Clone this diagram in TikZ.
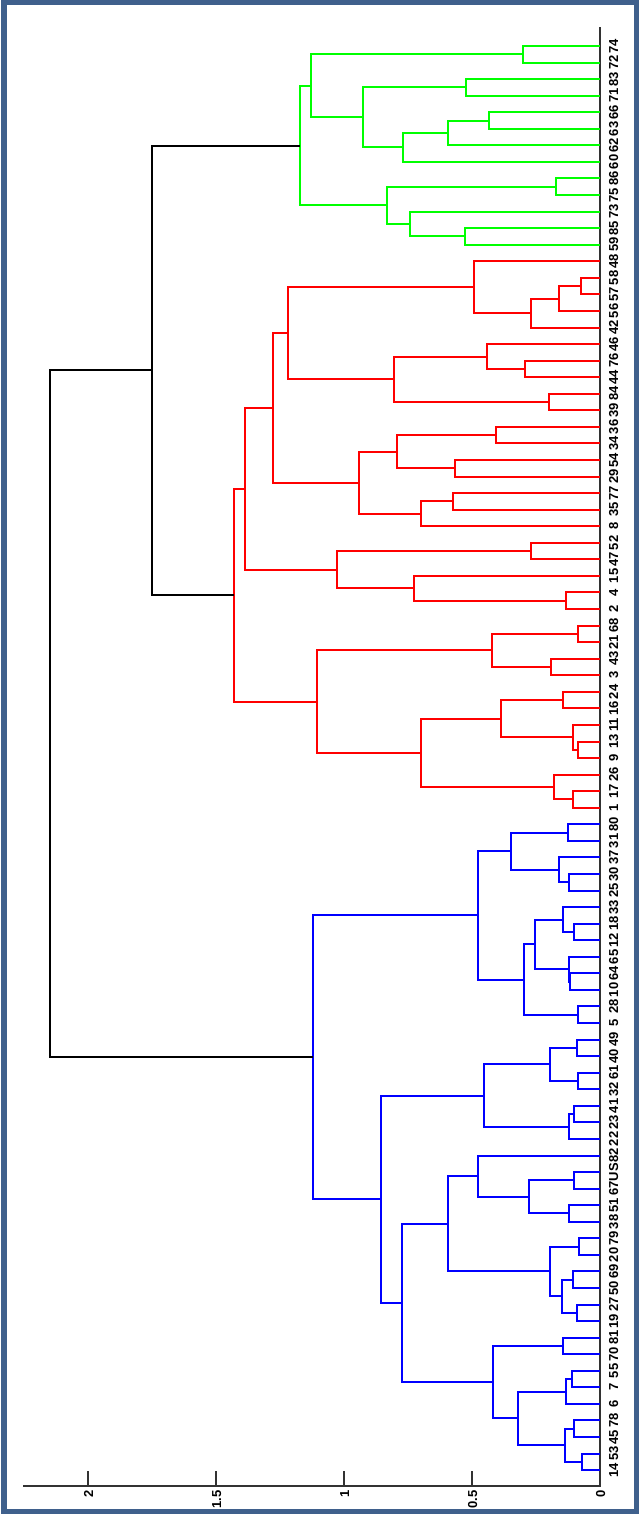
\documentclass[tikz,border=0pt]{standalone}
\usepackage{xcolor}
\usepackage{fontspec}
\setmainfont{Liberation Sans}
\usepackage{tikz}
\usetikzlibrary{calc}

\definecolor{framecol}{RGB}{63,96,140}
\definecolor{axiscol}{RGB}{50,50,50}

\newcommand{\dlink}[4]{%
  \path let \p1=(#2), \p2=(#3) in coordinate (#1) at ({(600-256*#4)*1pt},{0.5*\y1+0.5*\y2});
  \draw (#2) -- (#2 -| #1) -- (#3 -| #1) -- (#3);}

\begin{document}
\begin{tikzpicture}[x=1pt, y=-1pt, line join=miter,
    leaflab/.style={rotate=90, anchor=base, inner sep=0pt, font=\fontsize{13}{15}\selectfont\bfseries},
    ticklab/.style={rotate=90, anchor=base east, inner sep=0pt, font=\fontsize{13}{15}\selectfont\bfseries},
    branch/.style={line width=2pt}]
    \useasboundingbox (0,0) rectangle (640,1518);
    \fill[white] (0,0) rectangle (640,1518);
    \draw[framecol, line width=5.5pt] (4.2,2.2) rectangle (636.5,1511.5);

    % axes
    \coordinate (org) at (600,1486);
    \coordinate (xend) at (23,1486);
    \coordinate (yend) at (600,27);
    \draw[axiscol, line width=1.3pt] (xend) -- (org) -- (yend);
    \foreach \v [count=\i] in {0,0.5,1,1.5,2} {
        \coordinate (t\i) at ({600-256*\v},1486);
        \draw[axiscol, line width=1.3pt] (t\i) -- ++(0,-15);
        \node[ticklab] (ax\i) at ([xshift=5pt, yshift=-4pt]t\i) {\v};
    }

    % leaves
    \foreach \lab [count=\i from 0] in {74,72,83,71,66,63,62,60,86,75,73,85,59,48,58,57,56,42,46,76,44,84,39,36,34,54,29,77,35,8,52,47,15,4,2,68,21,43,3,24,16,11,13,9,26,17,1,80,31,37,30,25,33,18,12,65,64,10,28,5,49,40,61,32,41,23,22,82,US,67,51,38,79,20,69,50,27,19,81,70,55,7,6,78,45,53,14} {
        \coordinate (l\lab) at (600, 46+16.56*\i);
        \draw[axiscol, line width=0.8pt] (l\lab) -- ++(-17,0);
        \node[leaflab] (n\lab) at (618, 46+16.56*\i) {\lab};
    }

    \begin{scope}[branch, green]
        \foreach \m/\a/\b/\h in {g1/l74/l72/0.302, g2/l83/l71/0.523, g3/l66/l63/0.434,
            g4/g3/l62/0.592, g5/g4/l60/0.771, g6/g2/g5/0.927, g7/g1/g6/1.130,
            g8/l86/l75/0.172, g9/l85/l59/0.527, g10/l73/g9/0.742, g11/g8/g10/0.833,
            g12/g7/g11/1.172}
            {\dlink{\m}{\a}{\b}{\h}}
    \end{scope}

    \begin{scope}[branch, red]
        \foreach \m/\a/\b/\h in {r1/l58/l57/0.076, r2/r1/l56/0.159, r3/r2/l42/0.271,
            r4/l48/r3/0.492, r5/l76/l44/0.293, r6/l46/r5/0.440, r7/l84/l39/0.198,
            r8/r6/r7/0.803, r9/r4/r8/1.217, r10/l36/l34/0.408, r11/l54/l29/0.566,
            r12/r10/r11/0.794, r13/l77/l35/0.573, r14/r13/l8/0.700, r15/r12/r14/0.941,
            r16/r9/r15/1.279, r17/l52/l47/0.270, r18/l4/l2/0.133, r19/l15/r18/0.727,
            r20/r17/r19/1.029, r21/r16/r20/1.387, r22/l68/l21/0.085, r23/l43/l3/0.193,
            r24/r22/r23/0.423, r25/l24/l16/0.143, r26/l13/l9/0.085, r27/l11/r26/0.107,
            r28/r25/r27/0.387, r29/l17/l1/0.107, r30/l26/r29/0.178, r31/r28/r30/0.700,
            r32/r24/r31/1.107, r33/r21/r32/1.428}
            {\dlink{\m}{\a}{\b}{\h}}
    \end{scope}

    \begin{scope}[branch, blue]
        \foreach \m/\a/\b/\h in {b1/l80/l31/0.126, b2/l30/l25/0.121, b3/l37/b2/0.159,
            b4/b1/b3/0.348, b5/l18/l12/0.102, b6/l33/b5/0.143, b7/l64/l10/0.116,
            b8/l65/b7/0.122, b9/b6/b8/0.254, b10/l28/l5/0.085, b11/b9/b10/0.297,
            b12/b4/b11/0.475, b13/l49/l40/0.091, b14/l61/l32/0.085, b15/b13/b14/0.195,
            b16/l41/l23/0.102, b17/b16/l22/0.121, b18/b15/b17/0.452, b19/lUS/l67/0.102,
            b20/l51/l38/0.121, b21/b19/b20/0.276, b22/l82/b21/0.475, b23/l79/l20/0.081,
            b24/l69/l50/0.107, b25/l27/l19/0.091, b26/b24/b25/0.147, b27/b23/b26/0.195,
            b28/b22/b27/0.595, b29/l81/l70/0.143, b30/l55/l7/0.111, b31/b30/l6/0.133,
            b32/l78/l45/0.102, b33/l53/l14/0.069, b34/b32/b33/0.137, b35/b31/b34/0.322,
            b36/b29/b35/0.417, b37/b28/b36/0.775, b38/b18/b37/0.855, b39/b12/b38/1.122}
            {\dlink{\m}{\a}{\b}{\h}}
    \end{scope}

    \begin{scope}[branch, black]
        \dlink{k1}{g12}{r33}{1.751}
        \dlink{k2}{k1}{b39}{2.148}
    \end{scope}
\end{tikzpicture}
\end{document}
